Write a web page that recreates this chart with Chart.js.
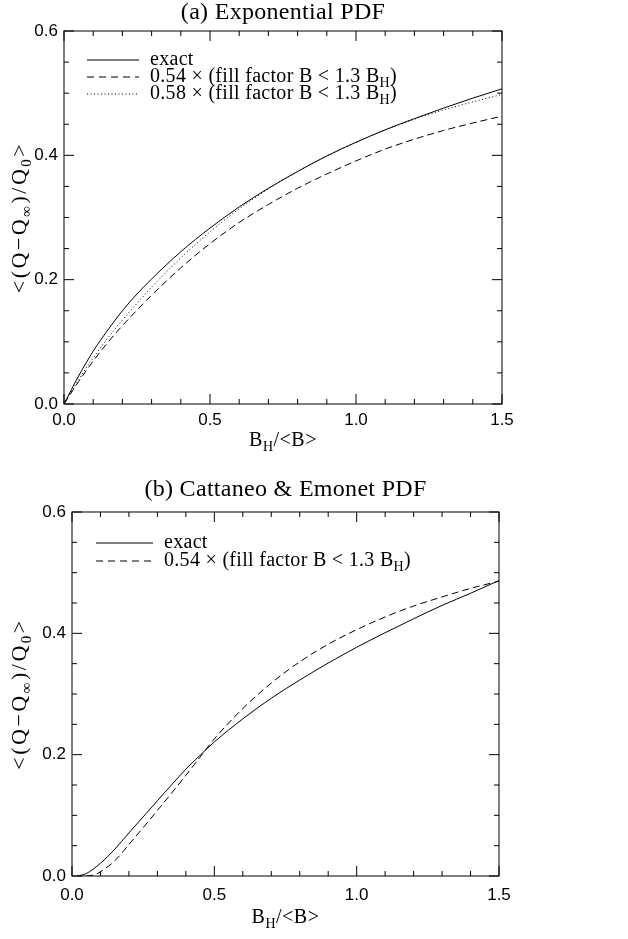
<!DOCTYPE html>
<html>
<head>
<meta charset="utf-8">
<script src="https://cdn.jsdelivr.net/npm/chart.js@4.4.0/dist/chart.umd.min.js"></script>
<style>
  body { margin: 0; background: #fff; }
  .panel { position: absolute; left: 0; width: 628px; }
</style>
</head>
<body>
<div class="panel" style="top:0;height:470px"><canvas id="chartA"></canvas></div>
<div class="panel" style="top:470px;height:469px"><canvas id="chartB"></canvas></div>
<script>
// (a) Exponential PDF
const xA       = [0, 0.05, 0.1, 0.15, 0.2, 0.25, 0.3, 0.4, 0.5, 0.6, 0.7, 0.8, 0.9, 1.0, 1.1, 1.2, 1.3, 1.4, 1.5];
const exactA   = [0, 0.045, 0.085, 0.119, 0.150, 0.177, 0.201, 0.245, 0.283, 0.317, 0.347, 0.374, 0.399, 0.421, 0.441, 0.459, 0.476, 0.492, 0.507];
const fill54A  = [0, 0.036, 0.069, 0.099, 0.126, 0.151, 0.175, 0.219, 0.258, 0.292, 0.321, 0.347, 0.370, 0.391, 0.410, 0.426, 0.440, 0.452, 0.463];
const fill58A  = [0, 0.039, 0.074, 0.106, 0.135, 0.162, 0.188, 0.235, 0.277, 0.314, 0.346, 0.374, 0.399, 0.421, 0.441, 0.458, 0.473, 0.486, 0.498];

// (b) Cattaneo & Emonet PDF
const xExactB  = [0.02, 0.05, 0.1, 0.15, 0.2, 0.3, 0.4, 0.45, 0.5, 0.6, 0.7, 0.8, 0.9, 1.0, 1.1, 1.2, 1.3, 1.4, 1.5];
const exactB   = [0, 0.004, 0.021, 0.044, 0.071, 0.124, 0.176, 0.199, 0.221, 0.259, 0.293, 0.323, 0.351, 0.377, 0.401, 0.424, 0.446, 0.466, 0.487];
const xFillB   = [0.05, 0.08, 0.1, 0.15, 0.2, 0.3, 0.4, 0.45, 0.5, 0.6, 0.7, 0.8, 0.9, 1.0, 1.1, 1.2, 1.3, 1.4, 1.5];
const fill54B  = [0, 0.002, 0.007, 0.025, 0.052, 0.108, 0.166, 0.196, 0.226, 0.276, 0.318, 0.353, 0.382, 0.406, 0.427, 0.445, 0.460, 0.474, 0.486];

const xTicks = [0, 0.5, 1.0, 1.5];
const yTicks = [0, 0.2, 0.4, 0.6];

const serif = "'Liberation Serif', serif";
const sans = "'Liberation Sans', sans-serif";

function pts(xs, ys) {
  return xs.map((x, i) => ({ x: x, y: ys[i] }));
}

// draws a run of text pieces, [text, isSubscript]
function richText(ctx, parts, x, y, size, align, spacing) {
  const subSize = Math.round(size * 0.68);
  ctx.letterSpacing = (spacing || 0) + 'px';
  let w = 0;
  parts.forEach(p => {
    ctx.font = (p[1] ? subSize : size) + 'px ' + serif;
    w += ctx.measureText(p[0]).width;
  });
  let cx = align === 'center' ? x - w / 2 : x;
  ctx.textAlign = 'left';
  ctx.textBaseline = 'middle';
  parts.forEach(p => {
    ctx.font = (p[1] ? subSize : size) + 'px ' + serif;
    ctx.fillText(p[0], cx, p[1] ? y + size * 0.3 : y);
    cx += ctx.measureText(p[0]).width;
  });
  ctx.letterSpacing = '0px';
}

const framePlugin = {
  id: 'frame',
  afterDraw(chart, args, opts) {
    const ctx = chart.ctx;
    const a = chart.chartArea;
    const xs = chart.scales.x, ys = chart.scales.y;
    ctx.save();
    ctx.strokeStyle = '#000';
    ctx.fillStyle = '#000';
    ctx.lineWidth = 1;
    ctx.setLineDash([]);
    ctx.strokeRect(a.left, a.top, a.right - a.left, a.bottom - a.top);

    // inward ticks on all four sides
    ctx.beginPath();
    for (let i = 0; i <= 15; i++) {
      const px = xs.getPixelForValue(i / 10);
      const len = i % 5 === 0 ? 10 : 5;
      ctx.moveTo(px, a.bottom); ctx.lineTo(px, a.bottom - len);
      ctx.moveTo(px, a.top); ctx.lineTo(px, a.top + len);
    }
    for (let i = 0; i <= 12; i++) {
      const py = ys.getPixelForValue(i * 0.05);
      const len = i % 4 === 0 ? 10 : 5;
      ctx.moveTo(a.left, py); ctx.lineTo(a.left + len, py);
      ctx.moveTo(a.right, py); ctx.lineTo(a.right - len, py);
    }
    ctx.stroke();

    // title, centred over the plot box
    richText(ctx, [[opts.title, false]], (a.left + a.right) / 2, opts.titleY, 24, 'center', 0.3);

    // axis titles
    richText(ctx, [['B', false], ['H', true], ['/<B>', false]],
      (a.left + a.right) / 2, a.bottom + opts.xTitleOffset, 20, 'center', 0.5);
    ctx.save();
    ctx.translate(opts.yTitleX, (a.top + a.bottom) / 2);
    ctx.rotate(-Math.PI / 2);
    richText(ctx, [['<(Q\u2212Q', false], ['\u221E', true], [')/Q', false], ['0', true], ['>', false]],
      0, 0, 22, 'center', 2.5);
    ctx.restore();

    // legend
    opts.legend.forEach((row, i) => {
      const ds = chart.data.datasets[row.index];
      const y = a.top + opts.legendTop + i * opts.legendRow;
      const x0 = a.left + opts.legendLeft;
      ctx.beginPath();
      ctx.setLineDash(row.dash);
      ctx.moveTo(x0, y);
      ctx.lineTo(x0 + opts.sampleLen, y);
      ctx.strokeStyle = ds.borderColor;
      ctx.stroke();
      ctx.setLineDash([]);
      richText(ctx, row.parts, x0 + opts.sampleLen + 11, y, 20, 'left', 0.3);
    });
    ctx.restore();
  }
};

function makeOptions(padTop, padRight, yWidth, xHeight, xPad, frame) {
  return {
    responsive: true,
    maintainAspectRatio: false,
    animation: false,
    layout: { padding: { left: 0, right: padRight, top: padTop, bottom: 0 } },
    plugins: {
      legend: { display: false },
      tooltip: { enabled: false },
      title: { display: false },
      frame: frame
    },
    scales: {
      x: {
        type: 'linear',
        min: 0,
        max: 1.5,
        afterBuildTicks: s => { s.ticks = xTicks.map(v => ({ value: v })); },
        ticks: {
          color: '#000',
          font: { family: sans, size: 17 },
          padding: xPad,
          maxRotation: 0,
          callback: v => v.toFixed(1)
        },
        grid: { display: false, drawTicks: false },
        border: { display: false },
        afterFit: s => { s.height = xHeight; }
      },
      y: {
        type: 'linear',
        min: 0,
        max: 0.6,
        afterBuildTicks: s => { s.ticks = yTicks.map(v => ({ value: v })); },
        ticks: {
          color: '#000',
          font: { family: sans, size: 17 },
          padding: 6,
          callback: v => v.toFixed(1)
        },
        grid: { display: false, drawTicks: false },
        border: { display: false },
        afterFit: s => { s.width = yWidth; }
      }
    }
  };
}

function line(data, dash) {
  return {
    data: data,
    showLine: true,
    borderColor: '#000',
    borderWidth: 1,
    borderDash: dash,
    pointRadius: 0,
    cubicInterpolationMode: 'monotone',
    fill: false
  };
}

const legend54 = [['0.54 \u00D7 (fill factor B < 1.3 B', false], ['H', true], [')', false]];
const legend58 = [['0.58 \u00D7 (fill factor B < 1.3 B', false], ['H', true], [')', false]];

new Chart(document.getElementById('chartA'), {
  type: 'scatter',
  data: {
    datasets: [
      line(pts(xA, exactA), []),
      line(pts(xA, fill54A), [7, 4]),
      line(pts(xA, fill58A), [1, 2.5])
    ]
  },
  options: makeOptions(31, 126, 64, 66, 6, {
    title: '(a) Exponential PDF',
    titleY: 13,
    xTitleOffset: 37,
    yTitleX: 20,
    legendLeft: 23,
    legendTop: 29,
    legendRow: 17,
    sampleLen: 52,
    legend: [
      { index: 0, dash: [], parts: [['exact', false]] },
      { index: 1, dash: [7, 5], parts: legend54 },
      { index: 2, dash: [1, 2.5], parts: legend58 }
    ]
  }),
  plugins: [framePlugin]
});

new Chart(document.getElementById('chartB'), {
  type: 'scatter',
  data: {
    datasets: [
      line(pts(xExactB, exactB), []),
      line(pts(xFillB, fill54B), [7, 4])
    ]
  },
  options: makeOptions(42, 129, 72, 63, 9, {
    title: '(b) Cattaneo & Emonet PDF',
    titleY: 20,
    xTitleOffset: 42,
    yTitleX: 20,
    legendLeft: 24,
    legendTop: 31,
    legendRow: 18,
    sampleLen: 57,
    legend: [
      { index: 0, dash: [], parts: [['exact', false]] },
      { index: 1, dash: [7, 5], parts: legend54 }
    ]
  }),
  plugins: [framePlugin]
});
</script>
</body>
</html>
